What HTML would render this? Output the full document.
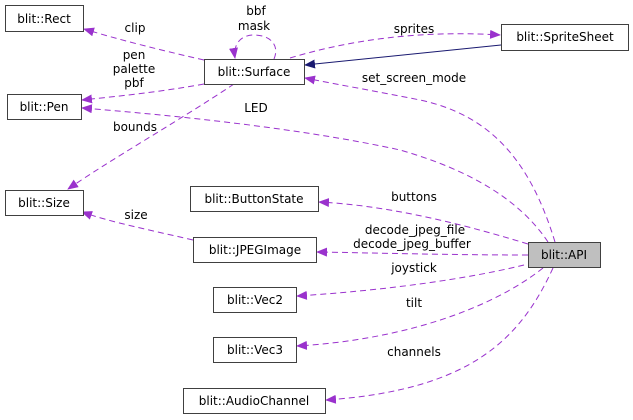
<!DOCTYPE html>
<html><head><meta charset="utf-8"><style>
html,body{margin:0;padding:0;background:#fff;width:633px;height:420px;overflow:hidden}
svg text{font-family:"DejaVu Sans","Liberation Sans",sans-serif;font-size:12px;fill:#000}
</style></head><body>
<svg width="633" height="420" viewBox="0 0 633 420" xmlns="http://www.w3.org/2000/svg">
<defs>
<marker id="p" markerWidth="11" markerHeight="9" refX="10" refY="4.5" orient="auto" markerUnits="userSpaceOnUse"><path d="M0,0 L11,4.5 L0,9 z" fill="#9a32cd"/></marker>
<marker id="b" markerWidth="11" markerHeight="9" refX="10" refY="4.5" orient="auto" markerUnits="userSpaceOnUse"><path d="M0,0 L11,4.5 L0,9 z" fill="#191970"/></marker>
</defs>
<g fill="none" stroke="#9a32cd" stroke-width="1" stroke-dasharray="6,4">
<path d="M204,60 C160,50 120,40 84,29" marker-end="url(#p)"/>
<path d="M274,59 C280,45 270,35 254,35 C240,35 233,45 235,58" marker-end="url(#p)"/>
<path d="M204,84 C160,92 120,96 82,100" marker-end="url(#p)"/>
<path d="M234,84 C180,120 110,160 68,189" marker-end="url(#p)"/>
<path d="M290,58 C350,40 420,30 500,35" marker-end="url(#p)"/>
<path d="M555,242 C530,160 490,115 420,100 C380,92 340,85 305,78" marker-end="url(#p)"/>
<path d="M548,242 C520,200 470,170 400,150 C300,128 170,115 82,108" marker-end="url(#p)"/>
<path d="M528,244 C450,220 380,205 319,202" marker-end="url(#p)"/>
<path d="M193,240 C150,230 110,222 82,212" marker-end="url(#p)"/>
<path d="M528,255 C450,255 380,253 317,252" marker-end="url(#p)"/>
<path d="M524,265 C450,283 360,292 297,296" marker-end="url(#p)"/>
<path d="M543,268 C490,310 400,340 297,346" marker-end="url(#p)"/>
<path d="M553,268 C520,340 470,390 326,400" marker-end="url(#p)"/>
</g>
<path d="M501,45 L305,65" stroke="#191970" fill="none" marker-end="url(#b)"/>
<g fill="#fff" stroke="#404040" stroke-width="1">
<rect x="5.5" y="5.5" width="78" height="26"/>
<rect x="204.5" y="59.5" width="100" height="25"/>
<rect x="7.5" y="94.5" width="74" height="25"/>
<rect x="5.5" y="190.5" width="78" height="25"/>
<rect x="190.5" y="186.5" width="128" height="25"/>
<rect x="501.5" y="24.5" width="127" height="26"/>
<rect x="528.5" y="242.5" width="72" height="25" fill="#bfbfbf"/>
<rect x="193.5" y="237.5" width="123" height="25"/>
<rect x="213.5" y="287.5" width="83" height="25"/>
<rect x="213.5" y="337.5" width="83" height="25"/>
<rect x="183.5" y="388.5" width="142" height="25"/>
</g>
<g text-anchor="middle">
<text x="44" y="23">blit::Rect</text>
<text x="254" y="76">blit::Surface</text>
<text x="44" y="111">blit::Pen</text>
<text x="44" y="207">blit::Size</text>
<text x="254" y="203">blit::ButtonState</text>
<text x="565" y="41">blit::SpriteSheet</text>
<text x="564" y="259">blit::API</text>
<text x="255" y="254">blit::JPEGImage</text>
<text x="255" y="304">blit::Vec2</text>
<text x="255" y="354">blit::Vec3</text>
<text x="254" y="405">blit::AudioChannel</text>
<text x="135" y="32">clip</text>
<text x="256" y="15">bbf</text>
<text x="254" y="30">mask</text>
<text x="134" y="59">pen</text>
<text x="134" y="73">palette</text>
<text x="134" y="87">pbf</text>
<text x="135" y="131">bounds</text>
<text x="256" y="112">LED</text>
<text x="414" y="33">sprites</text>
<text x="414" y="82">set_screen_mode</text>
<text x="414" y="201">buttons</text>
<text x="136" y="219">size</text>
<text x="415" y="234">decode_jpeg_file</text>
<text x="412" y="248">decode_jpeg_buffer</text>
<text x="414" y="272">joystick</text>
<text x="414" y="307">tilt</text>
<text x="414" y="356">channels</text>
</g>
</svg>
</body></html>
